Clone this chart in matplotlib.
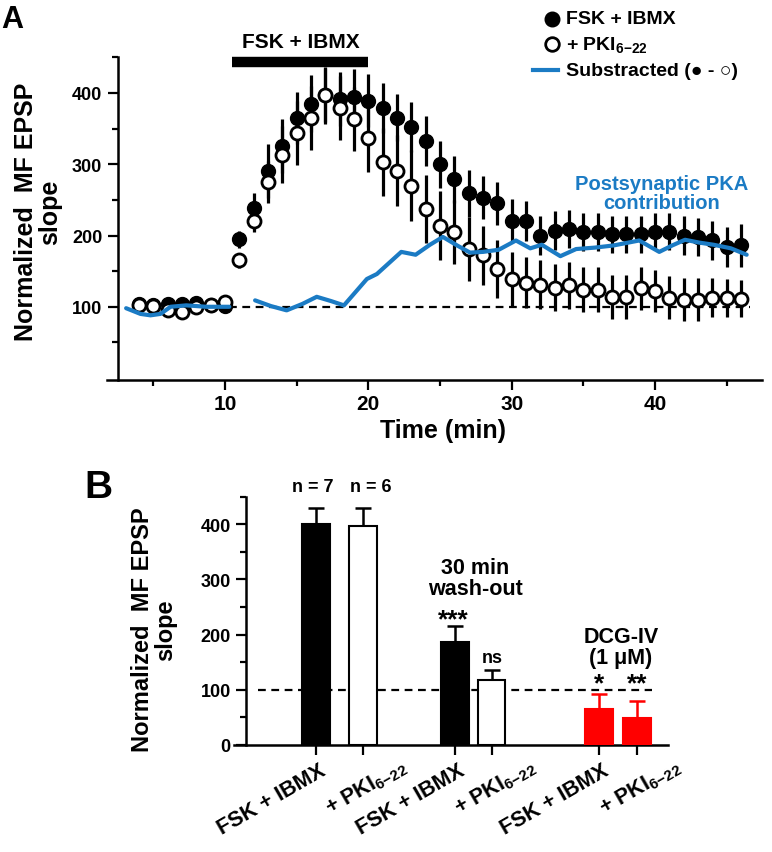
import matplotlib.pyplot as plt
from matplotlib.lines import Line2D
from matplotlib.transforms import ScaledTranslation

# ---- data, panel A (time course) ----
time = [4, 5, 6, 7, 8, 9, 10,
        11, 12, 13, 14, 15, 16, 17, 18, 19, 20, 21, 22, 23, 24, 25, 26, 27, 28,
        29, 30, 31, 32, 33, 34, 35, 36, 37, 38, 39, 40, 41, 42, 43, 44, 45, 46]
fsk = [104, 102, 104, 104, 105, 102, 101,
       195, 238, 291, 326, 365, 385, 397, 392, 394, 389, 379, 365, 352, 333, 300, 279, 259, 253,
       245, 221, 220, 200, 207, 209, 205, 205, 202, 202, 202, 205, 205, 200, 198, 193, 184, 186]
fsk_err = [5, 5, 5, 5, 5, 5, 6,
           12, 22, 38, 38, 37, 40, 38, 38, 40, 37, 35, 33, 35, 35, 33, 33, 33, 30,
           30, 30, 28, 28, 27, 27, 27, 27, 26, 26, 26, 26, 26, 27, 27, 27, 28, 30]
pki = [103, 101, 96, 92, 99, 103, 107,
       165, 220, 275, 313, 344, 365, 397, 379, 364, 337, 303, 291, 270, 237, 214, 205, 181, 172,
       153, 139, 134, 131, 127, 130, 124, 124, 114, 114, 126, 122, 113, 110, 110, 113, 112, 111]
pki_err = [5, 5, 6, 6, 5, 5, 6,
           10, 15, 30, 40, 45, 45, 40, 45, 45, 48, 48, 50, 50, 48, 48, 45, 45, 42,
           40, 38, 36, 34, 33, 33, 32, 32, 31, 31, 30, 30, 30, 30, 30, 28, 27, 26]

# subtracted trace (two segments)
sub_t1 = [3.1, 4.1, 4.8, 5.5, 6.2, 7.3, 8.7, 10.3]
sub_v1 = [98, 90, 88, 90, 100, 102, 100, 100]
sub_t2 = [12.1, 13.2, 14.3, 15.4, 16.4, 17.4, 18.3, 19.9, 20.6, 22.3, 23.3, 24.3, 25.2, 26.2,
          27.1, 28.0, 29.1, 30.3, 31.3, 32.1, 33.4, 34.5, 35.8, 37.1, 38.9, 40.3, 41.2, 42.1,
          43.1, 44.1, 45.3, 46.4]
sub_v2 = [109, 101, 95, 104, 114, 108, 102, 139, 146, 177, 173, 187, 198, 186,
          176, 177, 180, 193, 182, 187, 171, 181, 183, 186, 193, 177, 186, 194,
          190, 187, 182, 173]
drug_on, drug_off = 10.5, 20.0

# ---- data, panel B (bars) ----
bar_labels = ["FSK + IBMX", "+ PKI$_{6{-}22}$", "FSK + IBMX", "+ PKI$_{6{-}22}$",
              "FSK + IBMX", "+ PKI$_{6{-}22}$"]
bar_vals = [400, 397, 187, 118, 65, 49]
bar_errs = [30, 33, 28, 18, 28, 30]
bar_fill = ["black", "white", "black", "white", "red", "red"]
bar_edge = ["black", "black", "black", "black", "red", "red"]
bar_marks = ["n = 7", "n = 6", "***", "ns", "*", "**"]

plt.rcParams["font.family"] = ["Liberation Sans", "DejaVu Sans"]
plt.rcParams["font.weight"] = "bold"
plt.rcParams["mathtext.fontset"] = "custom"
plt.rcParams["mathtext.rm"] = "Liberation Sans:bold"
plt.rcParams["mathtext.it"] = "Liberation Sans:bold"
plt.rcParams["mathtext.bf"] = "Liberation Sans:bold"
plt.rcParams["mathtext.default"] = "rm"

W, H = 772, 853
BLUE = "#1b7bc4"


def fx(p):
    return p / W


def fy(p):
    return 1 - p / H


fig = plt.figure(figsize=(W / 100, H / 100), dpi=100)

# ================= panel A =================
ax = fig.add_axes([fx(106.7), fy(380.7), (762 - 106.7) / W, (380.7 - 58.3) / H])
ax.set_xlim(1.745, 47.47)
ax.set_ylim(-2.3, 450)
for s in ["top", "right"]:
    ax.spines[s].set_visible(False)
ax.spines["left"].set_position(("data", 2.5))
for s in ["left", "bottom"]:
    ax.spines[s].set_linewidth(1.8)

ax.hlines(100, 10.3, 46.6, colors="black", linestyles=(0, (3.5, 2.5)), lw=1.6, zorder=1)

ax.errorbar(time, fsk, yerr=fsk_err, fmt="none", ecolor="black", elinewidth=2.3, capsize=0, zorder=2)
ax.plot(time, fsk, "o", ms=10, mfc="black", mec="black", zorder=3)
ax.errorbar(time, pki, yerr=pki_err, fmt="none", ecolor="black", elinewidth=2.3, capsize=0, zorder=4)
ax.plot(time, pki, "o", ms=9.4, mfc="white", mec="black", mew=2.0, zorder=5)
ax.plot(sub_t1, sub_v1, color=BLUE, lw=3, zorder=6, solid_capstyle="round", solid_joinstyle="round")
ax.plot(sub_t2, sub_v2, color=BLUE, lw=3, zorder=6, solid_capstyle="round", solid_joinstyle="round")

ax.plot([drug_on, drug_off], [444, 444], color="black", lw=7.5, solid_capstyle="butt", clip_on=False)

ax.set_xticks([10, 20, 30, 40])
ax.set_xticks([5, 15, 25, 35, 45], minor=True)
ax.set_yticks([100, 200, 300, 400])
ax.set_yticks([50, 150, 250, 350, 450], minor=True)
ax.tick_params(which="major", length=7, width=1.6, direction="out")
ax.tick_params(which="minor", length=4, width=1.6, direction="out")
ax.tick_params(axis="x", labelsize=15, pad=3)
ax.tick_params(axis="y", labelsize=13, pad=4)

fig.text(fx(443), fy(431), "Time (min)", ha="center", va="center", fontsize=18)
fig.text(fx(38), fy(212), "Normalized  MF EPSP\nslope", rotation=90, ha="center", va="center",
         fontsize=18, linespacing=1.0)
fig.text(fx(1), fy(28), "A", fontsize=22, va="baseline", ha="left")
fig.text(fx(301), fy(43), "FSK + IBMX", ha="center", va="center", fontsize=15)

# legend
fig.add_artist(Line2D([fx(551.7)], [fy(20)], marker="o", ms=10.5, mfc="black", mec="black"))
fig.add_artist(Line2D([fx(551.7)], [fy(45)], marker="o", ms=9.8, mfc="white", mec="black", mew=2.0))
fig.add_artist(Line2D([fx(533), fx(558)], [fy(71), fy(71)], color=BLUE, lw=3))
fig.text(fx(566), fy(20), "FSK + IBMX", va="center", ha="left", fontsize=14)
fig.text(fx(566), fy(45), "+ PKI$_{6{-}22}$", va="center", ha="left", fontsize=14)
fig.text(fx(566), fy(71), "Substracted (\u25cf - \u25cb)", va="center", ha="left", fontsize=14,
         family=["Liberation Sans", "DejaVu Sans"])
fig.text(fx(661.5), fy(194), "Postsynaptic PKA\ncontribution", ha="center", va="center",
         fontsize=14.5, color=BLUE, linespacing=0.95)

# ================= panel B =================
bx = fig.add_axes([fx(234), fy(746), (668 - 234) / W, (746 - 497.7) / H])
pos = [0, 1, 2.96, 3.74, 6.02, 6.83]
lbl_dx = [3, 37, 3, 37, 3, 37]       # pixel offsets of the rotated labels
lbl_dy = [-15, -9, -15, -9, -15, -9]
bx.set_xlim(-1.745, 7.49)
bx.set_ylim(0, 450)
for s in ["top", "right"]:
    bx.spines[s].set_visible(False)
bx.spines["left"].set_position(("data", -1.49))
for s in ["left", "bottom"]:
    bx.spines[s].set_linewidth(1.8)

bx.hlines(100, -1.23, 7.15, colors="black", linestyles=(0, (3.5, 2.5)), lw=1.6, zorder=1)
bx.bar(pos, bar_vals, width=0.58, color=bar_fill, edgecolor=bar_edge, linewidth=1.5, zorder=3)
for p, v, e, c in zip(pos, bar_vals, bar_errs, bar_edge):
    bx.errorbar([p], [v], yerr=[[0], [e]], fmt="none", ecolor=c, elinewidth=1.8,
                capsize=6, capthick=1.8, zorder=2)

bx.set_yticks([0, 100, 200, 300, 400])
bx.set_yticks([50, 150, 250, 350, 450], minor=True)
bx.set_xticks(pos)
bx.set_xticklabels([])
for p, lab, dx, dy in zip(pos, bar_labels, lbl_dx, lbl_dy):
    tr = bx.get_xaxis_transform() + ScaledTranslation(dx / 100, dy / 100, fig.dpi_scale_trans)
    bx.text(p, 0, lab, transform=tr, rotation=30, ha="right", va="top", rotation_mode="anchor",
            fontsize=15.5)
bx.tick_params(which="major", length=7, width=1.6, direction="out")
bx.tick_params(which="minor", length=4, width=1.6, direction="out")
bx.tick_params(axis="y", labelsize=13, pad=4)

fig.text(fx(154), fy(630), "Normalized  MF EPSP\nslope", rotation=90, ha="center", va="center",
         fontsize=17, linespacing=1.0)
fig.text(fx(84), fy(498), "B", fontsize=28, va="baseline", ha="left")

# labels above bars (pixel anchors)
mark_xy = [(313, 488), (371, 488), (453, 627), (492, 659), (599, 691), (637, 691)]
for (mx, my), m in zip(mark_xy, bar_marks):
    if "*" in m:
        fig.text(fx(mx), fy(my), m, ha="center", va="baseline", fontsize=19)
    else:
        fig.text(fx(mx), fy(my), m, ha="center", va="center", fontsize=13)
fig.text(fx(475), fy(579), "30 min\nwash-out", ha="center", va="center", fontsize=15.5, linespacing=1.0)
fig.text(fx(621), fy(648), "DCG-IV\n(1 \u03bcM)", ha="center", va="center", fontsize=15.5, linespacing=1.0)

fig.savefig("out.png", dpi=100)
